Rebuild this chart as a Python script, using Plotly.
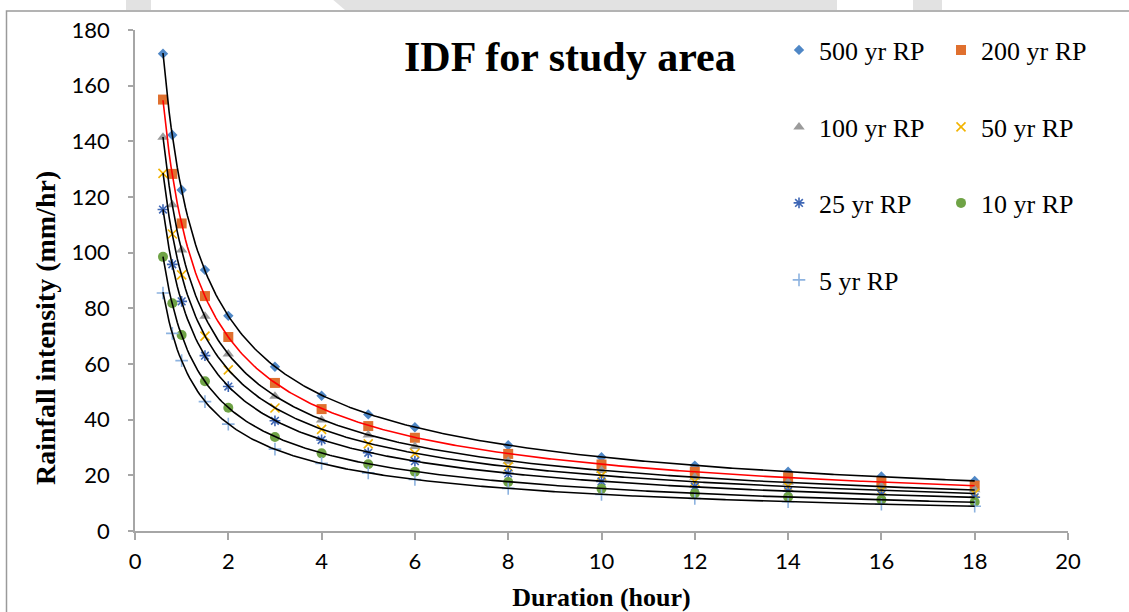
import numpy as np
import plotly.graph_objects as go

# Storm durations (hours)
duration = [0.6, 0.8, 1, 1.5, 2, 3, 4, 5, 6, 8, 10, 12, 14, 16, 18]

# Rainfall intensities (mm/hr) for each return period
rp500 = [171.5, 142.3, 122.5, 93.8, 77.3, 59.0, 48.6, 41.9, 37.3, 30.8, 26.5, 23.5, 21.3, 19.6, 18.0]
rp200 = [155.0, 128.3, 110.5, 84.4, 69.7, 53.2, 43.8, 37.7, 33.5, 27.7, 23.9, 21.3, 19.3, 17.6, 16.3]
rp100 = [141.5, 117.2, 101.0, 77.2, 63.6, 48.4, 39.9, 34.5, 30.4, 25.1, 21.7, 19.3, 17.5, 16.0, 14.8]
rp50 = [128.5, 106.7, 92.0, 70.0, 57.9, 44.2, 36.5, 31.3, 27.9, 23.1, 19.9, 17.7, 16.0, 14.6, 13.5]
rp25 = [115.5, 95.8, 82.5, 63.0, 51.9, 39.6, 32.7, 28.1, 25.1, 20.7, 17.8, 15.9, 14.3, 13.1, 12.1]
rp10 = [98.5, 81.8, 70.4, 53.8, 44.3, 33.8, 27.9, 24.0, 21.3, 17.6, 15.2, 13.5, 12.2, 11.2, 10.4]
rp5 = [85.5, 71.0, 61.2, 46.5, 38.4, 29.4, 24.3, 20.9, 18.5, 15.3, 13.1, 11.7, 10.5, 9.6, 8.9]

series_names = ["500 yr RP", "200 yr RP", "100 yr RP", "50 yr RP", "25 yr RP", "10 yr RP", "5 yr RP"]
series_values = [rp500, rp200, rp100, rp50, rp25, rp10, rp5]

# Marker styling per series
styles = [
    dict(symbol="diamond", color="#4F87C6", size=8),
    dict(symbol="square", color="#E0702F", size=10),
    dict(symbol="triangle-up", color="#9B9B9B", size=10),
    dict(symbol="x-thin-open", color="#F2B300", size=9),
    dict(symbol="asterisk-open", color="#3F67B5", size=9),
    dict(symbol="circle", color="#6FA346", size=10),
    dict(symbol="cross-thin-open", color="#8DB3E0", size=9),
]
trend_colors = ["black", "red", "black", "black", "black", "black", "black"]

# Plot-area geometry in pixels (used to place decorations in paper coords)
W, H = 1129, 612
L, R, T, B = 135, 61, 30, 81
PW, PH = W - L - R, H - T - B


def px_x(px):
    return (px - L) / PW


def px_y(py):
    return (H - B - py) / PH


fig = go.Figure()

# Scatter markers, one legend box per entry (two-column layout)
legend_slots = [
    ("legend", px_x(779), px_y(50)),
    ("legend2", px_x(941), px_y(50)),
    ("legend3", px_x(779), px_y(127)),
    ("legend4", px_x(941), px_y(127)),
    ("legend5", px_x(779), px_y(203)),
    ("legend6", px_x(941), px_y(203)),
    ("legend7", px_x(779), px_y(280)),
]

for name, vals, st, slot in zip(series_names, series_values, styles, legend_slots):
    open_sym = st["symbol"].endswith("-open")
    fig.add_trace(go.Scatter(
        x=duration, y=vals, mode="markers", name=name,
        legend=slot[0],
        marker=dict(symbol=st["symbol"], size=st["size"], color=st["color"],
                    line=dict(width=1.6 if open_sym else 0, color=st["color"])),
    ))

# Power-law trendlines fitted to each series
t_fine = np.linspace(min(duration), max(duration), 400)
for vals, col in zip(series_values, trend_colors):
    b, loga = np.polyfit(np.log(duration), np.log(vals), 1)
    fig.add_trace(go.Scatter(
        x=t_fine, y=np.exp(loga) * t_fine ** b, mode="lines",
        line=dict(color=col, width=1.6), showlegend=False, hoverinfo="skip",
    ))

legend_font = dict(family="Liberation Serif, Times New Roman, serif", size=26, color="black")
for key, lx, ly in legend_slots:
    fig.update_layout({key: dict(x=lx, y=ly, xanchor="left", yanchor="middle",
                                 font=legend_font, bgcolor="rgba(0,0,0,0)",
                                 borderwidth=0)})

axis_line = "#A6A6A6"
tick_font = dict(family="Lato, Open Sans, sans-serif", size=22, color="black")
serif = "Liberation Serif, Times New Roman, serif"

fig.update_xaxes(
    range=[0, 20], dtick=2, tick0=0, showgrid=False, zeroline=False,
    showline=True, linecolor=axis_line, linewidth=1.5,
    ticks="outside", ticklen=7, tickcolor=axis_line, tickwidth=1.5,
    tickfont=tick_font, ticklabelstandoff=3,
    title=dict(text="<b>Duration (hour)</b>", font=dict(family=serif, size=26, color="black"),
               standoff=22),
)
fig.update_yaxes(
    range=[0, 180], dtick=20, tick0=0, showgrid=False, zeroline=False,
    showline=True, linecolor=axis_line, linewidth=1.5,
    ticks="outside", ticklen=5, tickcolor=axis_line, tickwidth=1.5,
    tickfont=tick_font, ticklabelstandoff=14,
)

# Vertical axis title
fig.add_annotation(
    text="<b>Rainfall intensity (mm/hr)</b>", xref="paper", yref="paper",
    x=px_x(45), y=px_y(328), xanchor="center", yanchor="middle", textangle=-90,
    showarrow=False, font=dict(family=serif, size=28, color="black"),
)

# Chart title
fig.add_annotation(
    text="<b>IDF for study area</b>", xref="paper", yref="paper",
    x=px_x(570), y=px_y(57), xanchor="center", yanchor="middle", showarrow=False,
    font=dict(family=serif, size=42, color="black"),
)

# Chart frame and faint page marks above it
shapes = [
    dict(type="rect", xref="paper", yref="paper",
         x0=px_x(6.5), x1=px_x(1140), y0=px_y(640), y1=px_y(11),
         line=dict(color="#9A9A9A", width=1.5), fillcolor="rgba(0,0,0,0)", layer="below"),
]
for x0, x1 in [(126, 151), (913, 942)]:
    shapes.append(dict(type="rect", xref="paper", yref="paper",
                       x0=px_x(x0), x1=px_x(x1), y0=px_y(10), y1=px_y(-2),
                       line=dict(width=0), fillcolor="#E2E2E2", layer="below"))
shapes.append(dict(type="path", xref="paper", yref="paper",
                   path=f"M {px_x(331)},{px_y(-2)} L {px_x(837)},{px_y(-2)} L {px_x(837)},{px_y(10)} "
                        f"L {px_x(345)},{px_y(10)} Z",
                   line=dict(width=0), fillcolor="#E2E2E2", layer="below"))

fig.update_layout(
    width=W, height=H,
    margin=dict(l=L, r=R, t=T, b=B, autoexpand=False),
    paper_bgcolor="white", plot_bgcolor="white",
    shapes=shapes,
)

fig.write_html("out.html")
